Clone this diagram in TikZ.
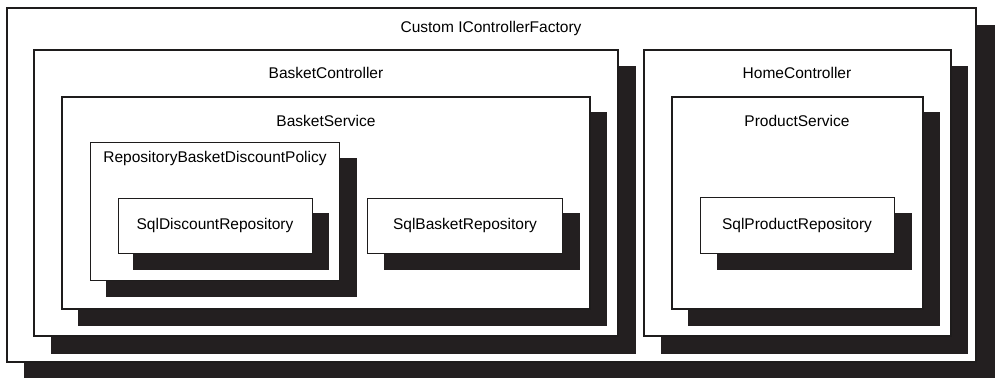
\documentclass[tikz,border=0pt]{standalone}
\usepackage{fontspec}
\setmainfont{Liberation Sans}
\usepackage{tikz}
\definecolor{ShadowBlack}{RGB}{35,31,32}
\definecolor{FrameBlack}{RGB}{30,28,28}

\begin{document}
\begin{tikzpicture}[x=1pt, y=-1pt, font=\fontsize{15.5}{18}\selectfont,
    shadowbox/.style={fill=ShadowBlack},
    thickbox/.style={draw=FrameBlack, line width=2pt, fill=white},
    thinbox/.style={draw=FrameBlack, line width=0.9pt, fill=white},
    lbl/.style={inner sep=0pt, text=black}]
    \useasboundingbox (0,0) rectangle (995,378);

    % Factory
    \fill[shadowbox] (24,25) rectangle (995,378);
    \draw[thickbox] (7,8) rectangle (976,362);
    \node[lbl] (factory) at (491,28) {Custom IControllerFactory};

    % BasketController
    \fill[shadowbox] (51,66) rectangle (636,354);
    \draw[thickbox] (34,50) rectangle (618,336);
    \node[lbl] (basketctrl) at (326,73) {BasketController};

    % HomeController
    \fill[shadowbox] (661,66) rectangle (968,354);
    \draw[thickbox] (644,50) rectangle (951,336);
    \node[lbl] (homectrl) at (797,73) {HomeController};

    % BasketService
    \fill[shadowbox] (78,112) rectangle (607,326);
    \draw[thickbox] (62,97) rectangle (590,309);
    \node[lbl] (basketsvc) at (326,121) {BasketService};

    % ProductService
    \fill[shadowbox] (688,112) rectangle (940,326);
    \draw[thickbox] (672,97) rectangle (923,309);
    \node[lbl] (productsvc) at (797,121) {ProductService};

    % Discount policy
    \fill[shadowbox] (106,158) rectangle (357,297);
    \draw[thinbox] (90,142) rectangle (339,280);
    \node[lbl] (policy) at (215,158) {RepositoryBasketDiscountPolicy};

    % Repositories
    \fill[shadowbox] (133,213) rectangle (329,270);
    \draw[thinbox] (118,198) rectangle (312,253);
    \node[lbl] (discountrepo) at (215,225.5) {SqlDiscountRepository};

    \fill[shadowbox] (384,213) rectangle (580,270);
    \draw[thinbox] (367,198) rectangle (562,253);
    \node[lbl] (basketrepo) at (465,225.5) {SqlBasketRepository};

    \fill[shadowbox] (717,213) rectangle (912,270);
    \draw[thinbox] (700,197) rectangle (894,253);
    \node[lbl] (productrepo) at (797,225.5) {SqlProductRepository};
\end{tikzpicture}
\end{document}
